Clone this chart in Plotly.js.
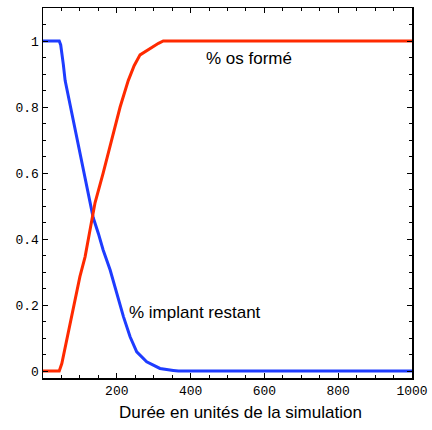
<!DOCTYPE html>
<html>
<head>
<meta charset="utf-8">
<script src="https://cdn.plot.ly/plotly-3.0.1.min.js"></script>
<style>html,body{margin:0;padding:0;background:#fff;}#chart{width:432px;height:430px;}</style>
</head>
<body>
<div id="chart"></div>
<script>
// Data
const implantX = [0, 44, 48, 51, 55, 60, 69, 78, 87, 96, 105, 118, 132, 136, 150, 163, 182, 200, 218, 236, 254, 281, 317, 353, 367, 1000];
const implantY = [1, 1, 0.988, 0.968, 0.93, 0.88, 0.83, 0.78, 0.73, 0.68, 0.63, 0.56, 0.49, 0.465, 0.417, 0.367, 0.306, 0.235, 0.165, 0.104, 0.058, 0.028, 0.008, 0.002, 0, 0];
const osX = [0, 44, 51, 64, 78, 91, 100, 114, 125, 136, 141, 163, 186, 209, 231, 247, 263, 290, 313, 326, 1000];
const osY = [0, 0, 0.023, 0.094, 0.165, 0.235, 0.286, 0.346, 0.417, 0.488, 0.51, 0.6, 0.70, 0.80, 0.88, 0.925, 0.958, 0.978, 0.993, 1, 1];
const xTickVals = [200, 400, 600, 800, 1000];
const xTickText = ["200", "400", "600", "800", "1000"];
const yTickVals = [0, 0.2, 0.4, 0.6, 0.8, 1];
const yTickText = ["0", "0.2", "0.4", "0.6", "0.8", "1"];
const labelOs = "% os formé";
const labelImplant = "% implant restant";
const xTitle = "Durée en unités de la simulation";

const traces = [
  {x: implantX, y: implantY, type: 'scatter', mode: 'lines', line: {color: '#1e3cff', width: 3}, hoverinfo: 'skip'},
  {x: osX, y: osY, type: 'scatter', mode: 'lines', line: {color: '#ff2a00', width: 3}, hoverinfo: 'skip'}
];

const tickFont = {family: 'Liberation Mono, DejaVu Sans Mono, monospace', size: 13, color: '#000'};
const textFont = {family: 'Liberation Sans, Arial, sans-serif', size: 17, color: '#000'};
const layout = {
  width: 432, height: 430,
  margin: {l: 43, r: 20, t: 8, b: 52},
  paper_bgcolor: '#fff', plot_bgcolor: '#fff',
  showlegend: false,
  xaxis: {
    range: [0, 1000], showgrid: false, zeroline: false,
    showline: true, linecolor: '#000', linewidth: 1.5, mirror: 'allticks',
    ticks: 'inside', ticklen: 5, tickcolor: '#000', tickwidth: 1,
    tickvals: xTickVals, ticktext: xTickText, tickfont: tickFont,
    minor: {dtick: 50, tick0: 0, ticks: 'inside', ticklen: 3, tickcolor: '#000', showgrid: false}
  },
  yaxis: {
    range: [-0.021, 1.1], showgrid: false, zeroline: false,
    showline: true, linecolor: '#000', linewidth: 1.5, mirror: 'allticks',
    ticks: 'inside', ticklen: 5, tickcolor: '#000', tickwidth: 1,
    tickvals: yTickVals, ticktext: yTickText, tickfont: tickFont,
    minor: {dtick: 0.05, tick0: 0, ticks: 'inside', ticklen: 3, tickcolor: '#000', showgrid: false}
  },
  annotations: [
    {x: 436, y: 0.948, xref: 'x', yref: 'y', text: labelOs, showarrow: false, xanchor: 'left', yanchor: 'middle', font: textFont},
    {x: 228, y: 0.176, xref: 'x', yref: 'y', text: labelImplant, showarrow: false, xanchor: 'left', yanchor: 'middle', font: textFont},
    {x: 0.534, y: -0.093, xref: 'paper', yref: 'paper', text: xTitle, showarrow: false, xanchor: 'center', yanchor: 'middle', font: textFont}
  ]
};
Plotly.newPlot('chart', traces, layout, {displayModeBar: false, staticPlot: true});
</script>
</body>
</html>
